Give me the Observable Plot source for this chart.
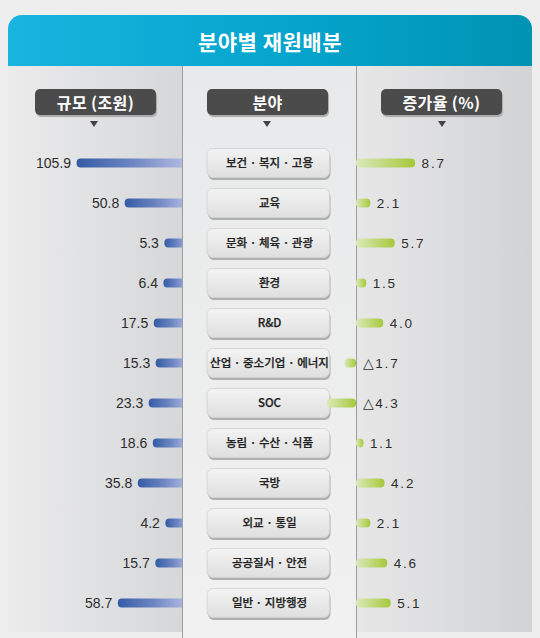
<!DOCTYPE html>
<html><head><meta charset="utf-8">
<script src="https://cdn.jsdelivr.net/npm/d3@7"></script>
<script src="https://cdn.jsdelivr.net/npm/@observablehq/plot@0.6"></script>
<style>
body{margin:0;background:#ededed;font-family:"Noto Sans CJK KR","Noto Sans",sans-serif;}
#stage{position:relative;width:540px;height:638px;overflow:hidden;background:#eeeeee;}
.abs{position:absolute;}
#header{left:8px;top:15px;width:524px;height:51px;border-radius:14px 14px 0 0;background:linear-gradient(to right,#19b4df,#06a6cf 50%,#0093b3);color:#fff;font-weight:bold;font-size:21px;display:flex;align-items:center;justify-content:center;letter-spacing:0.5px;}
#colL{left:8px;top:66px;width:174px;height:566px;background:linear-gradient(to right,#ebebec,#d6d7d9);}
#colR{left:356px;top:66px;width:176px;height:566px;background:linear-gradient(to right,#e7e7e8,#d2d3d5);}
#colM{left:182px;top:66px;width:174px;height:572px;background:linear-gradient(to bottom,#e8e9ea,#f1f1f1);z-index:2;}
.vline{top:66px;width:1px;height:572px;background:#9d9d9d;z-index:3;}
.pill{top:89px;width:121px;height:26px;border-radius:5px;background:#4b4b4b;color:#fff;font-weight:bold;font-size:16px;letter-spacing:0.4px;display:flex;align-items:center;justify-content:center;box-shadow:1px 2px 1px #a9a9a9;z-index:5;}
.tri{top:121px;width:0;height:0;border-left:4.5px solid transparent;border-right:4.5px solid transparent;border-top:6px solid #444;z-index:5;}
.plotwrap{top:130px;}
</style>
</head><body>
<div id="stage">
  <div id="header" class="abs"></div>
  <div id="colL" class="abs"></div>
  <div id="colR" class="abs"></div>
  <div id="colM" class="abs"></div>
  <div class="abs vline" style="left:182px"></div>
  <div class="abs vline" style="left:356px"></div>
  <div id="p0" class="abs pill" style="left:35px"></div>
  <div id="p1" class="abs pill" style="left:207px"></div>
  <div id="p2" class="abs pill" style="left:381px"></div>
  <div class="abs tri" style="left:90px"></div>
  <div class="abs tri" style="left:263px"></div>
  <div class="abs tri" style="left:438px"></div>
  <div id="leftPlot" class="abs plotwrap" style="left:8px;z-index:1"></div>
  <div id="midPlot" class="abs plotwrap" style="left:182px;z-index:3"></div>
  <div id="rightPlot" class="abs plotwrap" style="left:316px;z-index:4"></div>
</div>
<script>
const title = "분야별 재원배분";
const columnHeaders = ["규모 (조원)", "분야", "증가율 (%)"];
const categories = ["보건 · 복지 · 고용", "교육", "문화 · 체육 · 관광", "환경", "R&D", "산업 · 중소기업 · 에너지", "SOC", "농림 · 수산 · 식품", "국방", "외교 · 통일", "공공질서 · 안전", "일반 · 지방행정"];
const sizes = [105.9, 50.8, 5.3, 6.4, 17.5, 15.3, 23.3, 18.6, 35.8, 4.2, 15.7, 58.7];
const rates = [8.7, 2.1, 5.7, 1.5, 4.0, -1.7, -4.3, 1.1, 4.2, 2.1, 4.6, 5.1];

const rows = categories.map((c, i) => ({category: c, size: sizes[i], rate: rates[i]}));

document.getElementById("header").textContent = title;
columnHeaders.forEach((h, i) => document.getElementById("p" + i).textContent = h);

function addGrad(svg, id, stops, vertical) {
  let defs = d3.select(svg).select("defs");
  if (defs.empty()) defs = d3.select(svg).insert("defs", ":first-child");
  const g = defs.append("linearGradient").attr("id", id)
    .attr("x1", 0).attr("y1", 0).attr("x2", vertical ? 0 : 1).attr("y2", vertical ? 1 : 0);
  stops.forEach(([o, c]) => g.append("stop").attr("offset", o).attr("stop-color", c));
}

const common = {
  height: 500, marginTop: 12, marginBottom: 6,
  style: "background:transparent;overflow:visible;",
  y: {domain: categories, axis: null, padding: 0}
};
const numFont = "Liberation Sans, Arial, sans-serif";

// left: budget size
const sizeDomain = [-24, 110];
const left = Plot.plot({
  ...common, width: 182, marginLeft: 65, marginRight: 0,
  x: {domain: sizeDomain, reverse: true, axis: null},
  marks: [
    Plot.barX(rows, {y: "category", x1: sizeDomain[0], x2: "size", fill: "url(#gradL)", rx: 4, insetTop: 15.5, insetBottom: 15.5}),
    Plot.text(rows, {y: "category", x: "size", text: d => d.size.toFixed(1), textAnchor: "end", dx: -6, fontSize: 14, fill: "#2e2e2e", fontFamily: numFont})
  ]
});
addGrad(left, "gradL", [[0, "#335ca6"], [0.5, "#6f86c2"], [1, "#b9c1e6"]], false);
document.getElementById("leftPlot").append(left);

// middle: category buttons
const mx = () => columnHeaders[1];
const btn = {x: mx, y: d => d, insetLeft: 25, insetRight: 26.5, insetTop: 5.5, insetBottom: 5.5, rx: 6};
const mid = Plot.plot({
  ...common, width: 174, marginLeft: 0, marginRight: 0,
  x: {domain: [columnHeaders[1]], axis: null, padding: 0},
  marks: [
    Plot.cell(categories, {...btn, fill: "#b0b0b0", dx: 1, dy: 2.5}),
    Plot.cell(categories, {...btn, fill: "url(#gradB)", stroke: "#d0d0d0", strokeWidth: 0.8}),
    Plot.text(categories, {x: mx, y: d => d, text: d => d, fontSize: 11.5, fontWeight: 500, fill: "#222", fontFamily: "Noto Sans CJK KR, sans-serif", stroke: "#222", strokeWidth: 0.25})
  ]
});
addGrad(mid, "gradB", [[0, "#f3f3f3"], [1, "#dfdfdf"]], true);
document.getElementById("midPlot").append(mid);

// right: growth rate
const right = Plot.plot({
  ...common, width: 216, marginLeft: 40, marginRight: 0,
  x: {domain: [0, 25.9], axis: null},
  marks: [
    Plot.barX(rows, {y: "category", x1: 0, x2: "rate", fill: "url(#gradR)", rx: 4, insetTop: 15.5, insetBottom: 15.5}),
    Plot.text(rows, {y: "category", x: d => Math.max(0, d.rate), text: d => d.rate < 0 ? "△" + Math.abs(d.rate).toFixed(1) : d.rate.toFixed(1), textAnchor: "start", dx: 6, fontSize: 13.5, fill: "#2e2e2e", fontFamily: numFont})
  ]
});
addGrad(right, "gradR", [[0, "#dce9bb"], [1, "#a5c93a"]], false);
d3.select(right).selectAll("text").style("letter-spacing", "1.8px");
document.getElementById("rightPlot").append(right);
</script>
</body></html>
